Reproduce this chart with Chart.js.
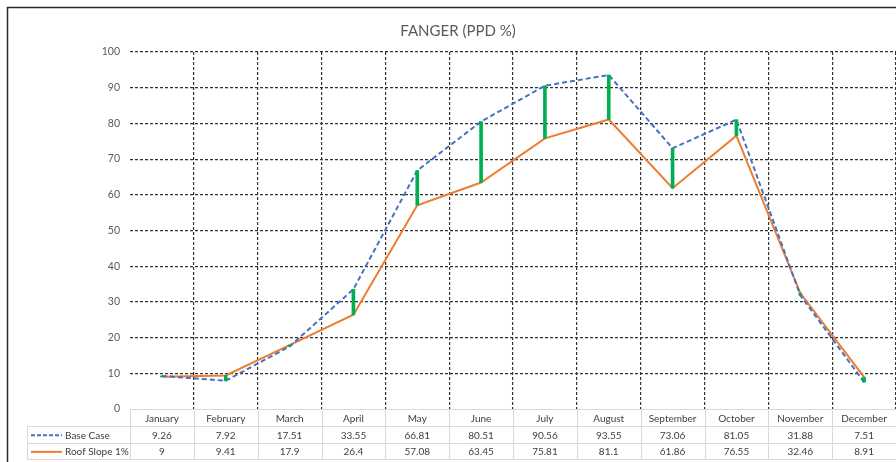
<!DOCTYPE html>
<html>
<head>
<meta charset="utf-8">
<script src="https://cdn.jsdelivr.net/npm/chart.js@4.4.1/dist/chart.umd.min.js"></script>
<style>
  html, body { margin: 0; padding: 0; background: #fff; overflow: hidden; }
  #wrap { width: 896px; height: 462px; }
</style>
</head>
<body>
<div id="wrap"><canvas id="fanger-chart"></canvas></div>
<script>
const months = ['January', 'February', 'March', 'April', 'May', 'June', 'July', 'August', 'September', 'October', 'November', 'December'];
const baseCase = [9.26, 7.92, 17.51, 33.55, 66.81, 80.51, 90.56, 93.55, 73.06, 81.05, 31.88, 7.51];
const roofSlope = [9, 9.41, 17.9, 26.4, 57.08, 63.45, 75.81, 81.1, 61.86, 76.55, 32.46, 8.91];
const baseLabel = 'Base Case';
const roofLabel = 'Roof Slope 1%';

// high-low connector between both series
const hiLow = baseCase.map((b, i) => [Math.min(b, roofSlope[i]), Math.max(b, roofSlope[i])]);

const textColor = '#595959';
const gridDash = [3, 2];

// frame + data table under the plot
const tablePlugin = {
    id: 'dataTable',
    beforeDraw(chart) {
        const c = chart.ctx;
        c.save();
        c.fillStyle = '#fff';
        c.fillRect(0, 0, chart.width, chart.height);
        c.strokeStyle = '#2b2b2b';
        c.lineWidth = 1.5;
        c.strokeRect(7.5, 7.5, chart.width + 20, chart.height + 20);
        c.restore();
    },
    afterDraw(chart) {
        const c = chart.ctx;
        const x = chart.scales.x;
        const half = (x.getPixelForValue(1) - x.getPixelForValue(0)) / 2;
        const top = chart.chartArea.bottom;
        const rows = [top, top + 17, top + 33.7, top + 50];
        const legendLeft = 27;
        const left = x.getPixelForValue(0) - half;
        const right = x.getPixelForValue(months.length - 1) + half;

        c.save();
        c.strokeStyle = '#d9d9d9';
        c.lineWidth = 1;
        c.beginPath();
        c.moveTo(left, rows[0] + 0.5); c.lineTo(right, rows[0] + 0.5);
        for (let r = 1; r < rows.length; r++) {
            c.moveTo(legendLeft, Math.round(rows[r]) + 0.5);
            c.lineTo(right, Math.round(rows[r]) + 0.5);
        }
        c.moveTo(legendLeft + 0.5, rows[1]); c.lineTo(legendLeft + 0.5, rows[3]);
        for (let i = 0; i <= months.length; i++) {
            const px = Math.round(left + i * half * 2) + 0.5;
            c.moveTo(px, rows[0]); c.lineTo(px, rows[3]);
        }
        c.stroke();

        c.fillStyle = '#404040';
        c.font = '10px Lato, "Open Sans", sans-serif';
        c.textAlign = 'center';
        c.textBaseline = 'middle';
        months.forEach((m, i) => {
            const cx = x.getPixelForValue(i);
            c.fillText(m, cx, (rows[0] + rows[1]) / 2 + 1);
            c.fillText(String(baseCase[i]), cx, (rows[1] + rows[2]) / 2 + 1);
            c.fillText(String(roofSlope[i]), cx, (rows[2] + rows[3]) / 2 + 1);
        });

        // legend keys
        c.textAlign = 'left';
        const y1 = (rows[1] + rows[2]) / 2 + 1;
        const y2 = (rows[2] + rows[3]) / 2 + 1;
        c.fillText(baseLabel, 65, y1);
        c.fillText(roofLabel, 65, y2);
        c.lineWidth = 2;
        c.strokeStyle = '#4472C4';
        c.setLineDash([4, 2]);
        c.beginPath(); c.moveTo(31, y1); c.lineTo(62, y1); c.stroke();
        c.setLineDash([]);
        c.strokeStyle = '#ED7D31';
        c.beginPath(); c.moveTo(31, y2); c.lineTo(62, y2); c.stroke();
        c.restore();
    }
};

const ctx = document.getElementById('fanger-chart');
new Chart(ctx, {
    type: 'line',
    data: {
        labels: months,
        datasets: [
            {
                label: baseLabel,
                data: baseCase,
                borderColor: '#4472C4',
                borderWidth: 2,
                borderDash: [5, 3],
                pointRadius: 0,
                tension: 0,
                order: 2
            },
            {
                label: roofLabel,
                data: roofSlope,
                borderColor: '#ED7D31',
                borderWidth: 2,
                pointRadius: 0,
                tension: 0,
                order: 3
            },
            {
                type: 'bar',
                label: 'High-Low',
                data: hiLow,
                backgroundColor: '#00B050',
                barThickness: 3,
                order: 1
            }
        ]
    },
    options: {
        responsive: true,
        maintainAspectRatio: false,
        animation: false,
        layout: {
            padding: { left: 20, right: 0, top: 6, bottom: 53 }
        },
        scales: {
            x: {
                offset: true,
                border: { display: false, dash: gridDash },
                ticks: { display: false },
                grid: {
                    offset: true,
                    drawTicks: false,
                    color: (c) => c.index === 0 ? 'rgba(0,0,0,0)' : '#333',
                    lineWidth: 1.2
                },
                afterFit: (s) => { s.height = 0; }
            },
            y: {
                min: 0,
                max: 100,
                border: { display: false, dash: gridDash },
                ticks: {
                    stepSize: 10,
                    color: textColor,
                    padding: 10,
                    font: { family: 'Lato, "Open Sans", sans-serif', size: 10.5 }
                },
                grid: {
                    drawTicks: false,
                    color: (c) => c.tick && c.tick.value === 0 ? 'rgba(0,0,0,0)' : '#333',
                    lineWidth: 1.2
                },
                afterFit: (s) => { s.width = 110; }
            }
        },
        plugins: {
            legend: { display: false },
            tooltip: { enabled: false },
            title: {
                display: true,
                text: 'FANGER (PPD %)',
                color: textColor,
                font: { family: 'Lato, "Open Sans", sans-serif', size: 15, weight: 'normal' },
                padding: { top: 16, bottom: 12 }
            }
        }
    },
    plugins: [tablePlugin]
});
</script>
</body>
</html>
